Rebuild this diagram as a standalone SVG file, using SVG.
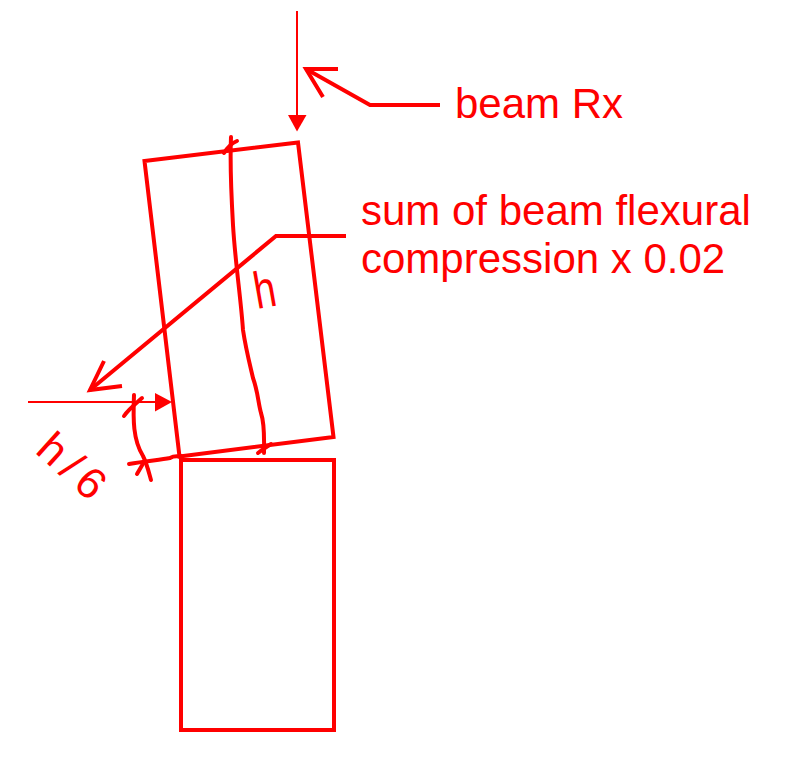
<svg xmlns="http://www.w3.org/2000/svg" width="800" height="781" viewBox="0 0 800 781">
<style>
.s{fill:none;stroke:#ff0000;stroke-width:4;stroke-linejoin:miter}
.h{fill:none;stroke:#ff0000;stroke-width:4;stroke-linecap:round;stroke-linejoin:round}
.t{fill:none;stroke:#ff0000;stroke-width:2}
.a{fill:#ff0000;stroke:none}
.l{fill:#ff0000;font-family:"Liberation Sans",Arial,sans-serif;font-size:42px}
.w{fill:#ff0000;font-family:"Liberation Sans",Arial,sans-serif}
</style>
<rect width="800" height="781" fill="#ffffff"/>
<g id="upper-block"><path class="s" d="M144.500 161L298 142.500L333.500 437L179.500 456.500Z"/></g>
<g id="lower-block"><rect class="s" x="181" y="460" width="153" height="270"/></g>
<g id="connectors">
<path class="t" d="M297 11V118"/>
<path class="a" d="M288 115H306.500L297 131.500Z"/>
<path class="t" d="M28 402H160"/>
<path class="a" d="M155 393V411.500L172 402Z"/>
<path class="s" d="M440 105H370L306 69"/>
<path class="s" d="M338 69H306L323 97"/>
<path class="s" d="M346 236H276L90 390"/>
<path class="s" d="M122 386L90 390L104 361"/>
<path class="h" d="M231 137C230 160 231 190 233 225C235 260 241 300 243 330C246 350 250 365 253 378C258 392 258 402 261 413C265 425 264 440 264 453"/>
<path class="h" d="M224 153C227 148 232 143 237 141"/>
<path class="h" d="M258 453C262 450 266 447 271 444"/>
<path class="h" d="M134 395C133 420 133 440 143 456C147 464 149 473 151 480"/>
<path class="h" d="M124 416C128 410 134 405 142 398"/>
<path class="h" d="M129 464C145 461 160 460 170 458C175 455 178 457 181 456"/>
<path class="h" d="M137 474L144 462"/>
</g>
<g id="labels">
<text class="l" x="455" y="118">beam Rx</text>
<text class="l" x="361" y="225">sum of beam flexural</text>
<text class="l" x="361" y="273">compression x 0.02</text>
<text class="w" font-size="52" transform="translate(257 309) rotate(-10) scale(.75 1)">h</text>
<text class="w" font-size="44" letter-spacing="7" transform="translate(34 452) rotate(42)">h/6</text>
</g>
</svg>
